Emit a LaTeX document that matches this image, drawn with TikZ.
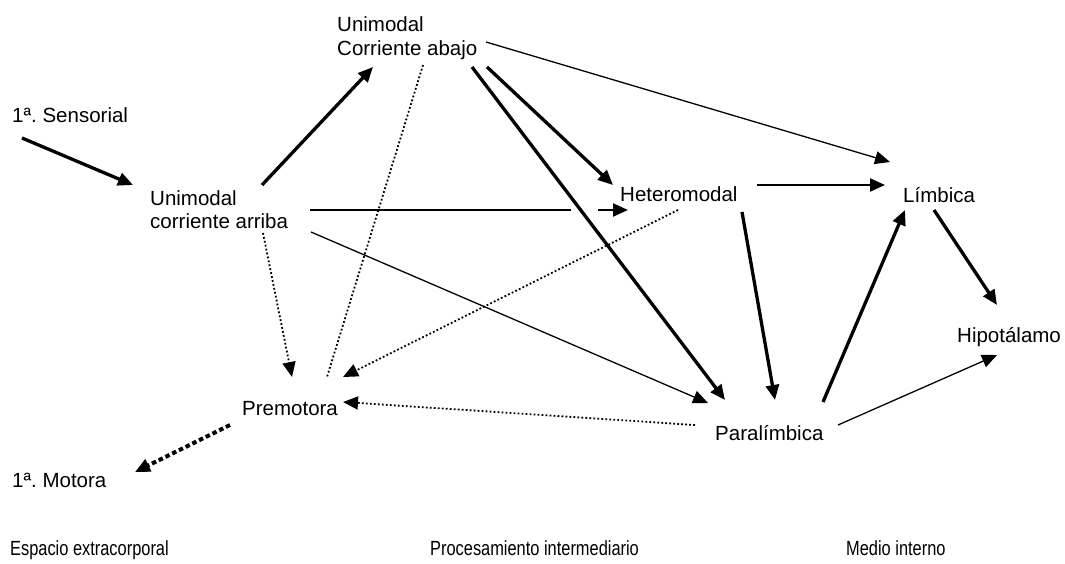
\documentclass[tikz,border=0pt]{standalone}
\usepackage{fontspec}
\setmainfont{Liberation Sans}
\usetikzlibrary{arrows.meta,calc}
\frenchspacing
\begin{document}
\begin{tikzpicture}[x=1pt,y=-1pt,
  lbl/.style={inner sep=0pt, anchor=base west, font=\fontsize{20.5}{23.5}\selectfont},
  narrowlbl/.style={lbl, xscale=0.8},
  tip/.style={-{Triangle[length=15pt,width=13pt]}},
  thk/.style={line width=3.3pt},
  med/.style={line width=2.2pt},
  thn/.style={line width=1.3pt},
  dots/.style={line width=1.8pt, dash pattern=on 1.8pt off 2.2pt},
  bigdots/.style={line width=4pt, dash pattern=on 4.5pt off 3pt}]
\useasboundingbox (0,0) rectangle (1065,564);
% nodes
\node[lbl] (sens) at (12,123) {1ª. Sensorial};
\node[lbl] (uca) at (150,205) {\begin{tabular}[t]{@{}l@{}}Unimodal\\corriente arriba\end{tabular}};
\node[lbl] (ucab) at (337,32) {\begin{tabular}[t]{@{}l@{}}Unimodal\\Corriente abajo\end{tabular}};
\node[lbl] (het) at (620,202) {Heteromodal};
\node[lbl] (lim) at (903,203) {Límbica};
\node[lbl] (hip) at (957,342) {Hipotálamo};
\node[lbl] (prem) at (242,415) {Premotora};
\node[lbl] (para) at (715,440) {Paralímbica};
\node[lbl] (mot) at (12,487) {1ª. Motora};
\node[narrowlbl] (esp) at (10,555) {Espacio extracorporal};
\node[narrowlbl] (proc) at (430,555) {Procesamiento intermediario};
\node[narrowlbl] (medio) at (846,555) {Medio interno};
% connectors
\draw[thk,tip] ($(sens.base west)+(10,15)$) -- ($(uca.base west)+(-17,-20)$);
\draw[thk,tip] ($(uca.base west)+(112,-20)$) -- ($(ucab.base west)+(36,35)$);
\coordinate (uhS) at ($(uca.base west)+(160,5)$);
\coordinate (uhT) at ($(het.base west)+(8,8)$);
\coordinate (gapA) at ($(uhS)!0.82!(uhT)$);
\coordinate (gapB) at ($(uhS)!0.905!(uhT)$);
\draw[med] (uhS) -- (gapA);
\draw[med,tip] (gapB) -- (uhT);
\draw[thn,tip] ($(uca.base west)+(161,27)$) -- ($(para.base west)+(-7,-37)$);
\draw[thk,tip] ($(ucab.base west)+(150,35)$) -- ($(het.base west)+(-7,-17)$);
\draw[thk,tip] ($(ucab.base west)+(135,35)$) -- ($(para.base west)+(10,-40)$);
\draw[thn,tip] ($(ucab.base west)+(149,10)$) -- ($(lim.base west)+(-13,-41)$);
\draw[dots] ($(ucab.base west)+(86,33)$) -- ($(prem.base west)+(85,-38)$);
\draw[dots,tip] ($(uca.base west)+(113,28)$) -- ($(prem.base west)+(50,-38)$);
\draw[dots,tip] ($(het.base west)+(58,8)$) -- ($(prem.base west)+(101,-38)$);
\draw[dots,tip] ($(para.base west)+(-20,-15)$) -- ($(prem.base west)+(101,-13)$);
\draw[bigdots,tip] ($(prem.base west)+(-12,10)$) -- ($(mot.base west)+(123,-15)$);
\draw[med,tip] ($(het.base west)+(137,-17)$) -- ($(lim.base west)+(-18,-18)$);
\draw[thk,tip] ($(het.base west)+(122,10)$) -- ($(para.base west)+(60,-40)$);
\draw[thk,tip] ($(para.base west)+(108,-38)$) -- ($(lim.base west)+(2,7)$);
\draw[thk,tip] ($(lim.base west)+(31,7)$) -- ($(hip.base west)+(40,-37)$);
\draw[thn,tip] ($(para.base west)+(123,-15)$) -- ($(hip.base west)+(40,13)$);
\end{tikzpicture}
\end{document}
